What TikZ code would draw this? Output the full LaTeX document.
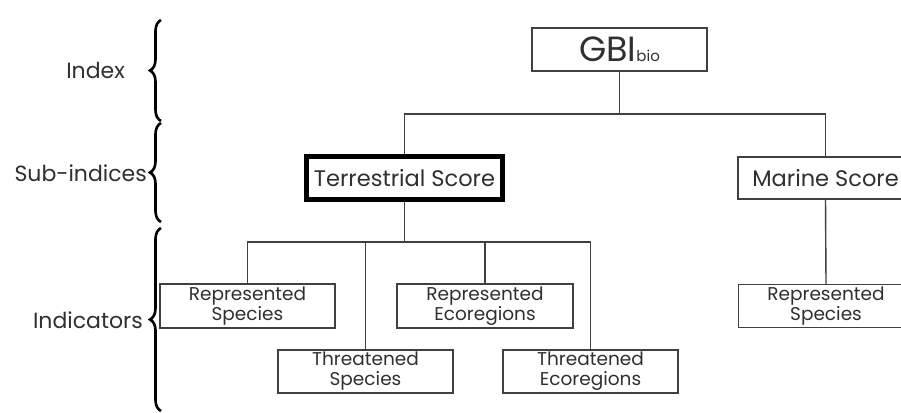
\documentclass[tikz,border=0pt]{standalone}
\usepackage{fontspec}
\setmainfont{Poppins}
\usetikzlibrary{decorations.pathreplacing}
\definecolor{ink}{HTML}{303030}
\definecolor{linec}{HTML}{404040}
\tikzset{
  box/.style={draw=linec, line width=1.4pt, fill=white, text=ink, inner sep=0pt, align=center,
    minimum width=175pt, minimum height=43pt, font=\fontsize{18.5}{20}\selectfont},
  thickbox/.style={box, draw=black, line width=5pt, minimum width=196pt, minimum height=43pt,
    font=\fontsize{22.5}{24}\selectfont},
  midbox/.style={box, minimum height=42pt, font=\fontsize{22.5}{24}\selectfont},
  conn/.style={draw=linec, line width=1.4pt},
  lvl/.style={text=ink, font=\fontsize{22}{24}\selectfont, inner sep=0pt},
  curly/.style={draw=black, line width=2.6pt, decorate, decoration={brace, amplitude=11pt}}
}
\begin{document}
\begin{tikzpicture}[x=1pt,y=-1pt]
\useasboundingbox (0,0) rectangle (901,412);
\fill[white] (0,0) rectangle (901,412);
\clip (0,0) rectangle (901,412);
% level braces
\draw[curly] (161,121) -- (161,20);
\draw[curly] (161,222) -- (161,123);
\draw[curly] (161,411) -- (161,228);
\node[lvl, anchor=east] (lindex) at (125,70) {Index};
\node[lvl, anchor=east] (lsub) at (147,173) {Sub-indices};
\node[lvl, anchor=east] (lind) at (143,320) {Indicators};
% boxes
\node[box, minimum height=43pt] (gbi) at (619.5,49.5) {\fontsize{35}{35}\selectfont GBI\fontsize{15}{15}\selectfont bio};
\node[thickbox] (terr) at (404.5,178) {Terrestrial Score};
\node[midbox] (marine) at (825.5,178) {Marine Score};
\node[box, minimum height=44pt] (rs) at (247.5,306) {Represented\\Species};
\node[box] (ts) at (365.5,371.5) {Threatened\\Species};
\node[box, minimum width=176pt, minimum height=44pt] (re) at (485,306) {Represented\\Ecoregions};
\node[box] (te) at (590.5,371.5) {Threatened\\Ecoregions};
\node[box] (mrs) at (826,306) {Represented\\Species};
% connectors
\coordinate (j1) at (619.5,114);
\coordinate (j2) at (404.5,242);
\draw[conn] (gbi.south) -- (j1);
\draw[conn] (terr.north) |- (j1) -| (marine.north);
\draw[conn] (terr.south) -- (j2);
\draw[conn] (rs.north) |- (j2) -| (te.north);
\draw[conn] (ts.north) -- (ts.north |- j2);
\draw[conn] (re.north) -- (re.north |- j2);
\draw[conn] (marine.south) -- (mrs.north);
\end{tikzpicture}
\end{document}
